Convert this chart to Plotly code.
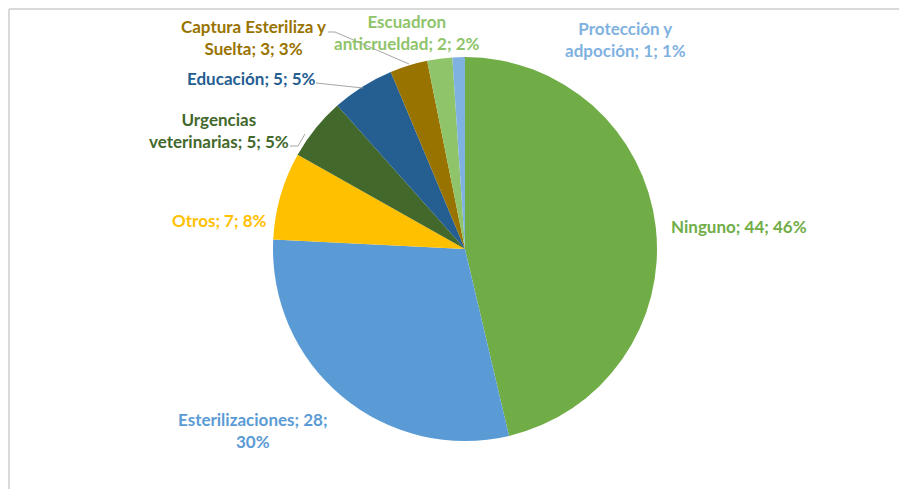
import plotly.graph_objects as go

W, H = 907, 489
OFF = 8  # page body margin offset of the figure div

categories = ["Ninguno", "Esterilizaciones", "Otros", "Urgencias veterinarias",
              "Educación", "Captura Esteriliza y Suelta", "Escuadron anticrueldad",
              "Protección y adpoción"]
values = [44, 28, 7, 5, 5, 3, 2, 1]
pct_labels = ["46%", "30%", "8%", "5%", "5%", "3%", "2%", "1%"]
colors = ["#70AD47", "#5B9BD5", "#FFC000", "#43682B", "#255E91", "#997300",
          "#8FC46B", "#7FB2E1"]

# label text with line breaks as in the reference
label_text = [
    f"{categories[0]}; {values[0]}; {pct_labels[0]}",
    f"{categories[1]}; {values[1]};<br>{pct_labels[1]}",
    f"{categories[2]}; {values[2]}; {pct_labels[2]}",
    f"Urgencias<br>veterinarias; {values[3]}; {pct_labels[3]}",
    f"{categories[4]}; {values[4]}; {pct_labels[4]}",
    f"Captura Esteriliza y<br>Suelta; {values[5]}; {pct_labels[5]}",
    f"Escuadron<br>anticrueldad; {values[6]}; {pct_labels[6]}",
    f"Protección y<br>adpoción; {values[7]}; {pct_labels[7]}",
]
# label centre positions in page pixels
label_pos = [(739, 226), (253, 430), (219, 220), (219, 130), (251, 78),
             (253, 37), (407, 32), (625, 39)]

cx, cy, r = 465 - OFF, 249 - OFF, 192


def px2paper(x, y):
    return (x - OFF) / W, 1 - (y - OFF) / H


fig = go.Figure(go.Pie(
    labels=categories, values=values, sort=False, direction="clockwise",
    rotation=0, textinfo="none", hoverinfo="label+value+percent",
    marker=dict(colors=colors, line=dict(width=0)),
    domain=dict(x=[cx / W - 0.25, cx / W + 0.25],
                y=[(H - cy - r) / H, (H - cy + r) / H]),
    showlegend=False,
))

anns = []
for t, (px, py), c in zip(label_text, label_pos, colors):
    ax, ay = px2paper(px, py)
    anns.append(dict(x=ax, y=ay, xref="paper", yref="paper",
                     text=t, showarrow=False, xanchor="center", yanchor="middle",
                     align="center",
                     font=dict(family="Lato", size=17, color=c, weight="bold")))


def seg(pts, color="#A6A6A6", width=1):
    out = []
    for (x0, y0), (x1, y1) in zip(pts[:-1], pts[1:]):
        a0, b0 = px2paper(x0, y0)
        a1, b1 = px2paper(x1, y1)
        out.append(dict(type="line", xref="paper", yref="paper",
                        x0=a0, y0=b0, x1=a1, y1=b1,
                        line=dict(color=color, width=width)))
    return out


shapes = []
shapes += seg([(328, 32), (335, 32), (409, 64)])     # Captura
shapes += seg([(316, 83), (363, 88)])                # Educación
shapes += seg([(290, 146), (298, 146), (305, 134)])  # Urgencias
# chart area border (top + left)
shapes += seg([(9, 9), (920, 9)], "#D9D9D9", 2)
shapes += seg([(9, 9), (9, 500)], "#D9D9D9", 2)

fig.update_layout(width=W, height=H, margin=dict(l=0, r=0, t=0, b=0),
                  paper_bgcolor="white", plot_bgcolor="white",
                  annotations=anns, shapes=shapes)

fig.write_html("out.html")
